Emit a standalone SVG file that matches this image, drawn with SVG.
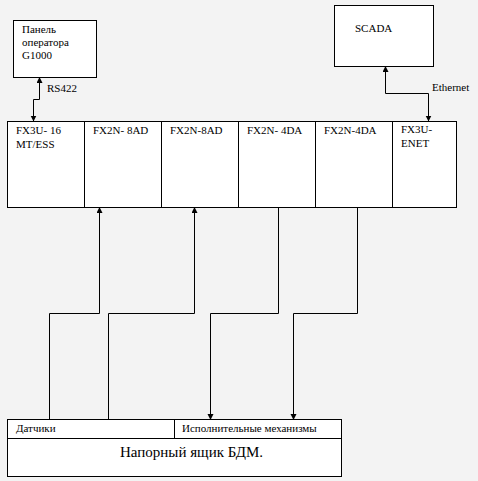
<svg xmlns="http://www.w3.org/2000/svg" width="478" height="481" viewBox="0 0 478 481" font-family="'Liberation Serif', 'Times New Roman', 'DejaVu Serif', serif">
<defs>
<marker id="ah" viewBox="0 0 6 7" refX="5.5" refY="3" markerWidth="6" markerHeight="7" markerUnits="userSpaceOnUse" orient="auto">
<path d="M0,0 L6,3 L0,6 z" fill="#000"/>
</marker>
<style>
.box{fill:#fff;stroke:#000;stroke-width:1}
.ln{fill:none;stroke:#000;stroke-width:1}
.arr{fill:none;stroke:#000;stroke-width:1;marker-end:url(#ah)}
text{font-family:'Liberation Serif','Times New Roman',serif;fill:#000}
.t{font-size:11px}
.s{font-size:11px}
.big{font-size:15px}
</style>
</defs>
<rect width="478" height="481" fill="#f3f3f3"/>
<g id="panel">
<rect class="box" x="13.5" y="20.5" width="83" height="57"/>
<text class="t" x="22" y="33">Панель</text>
<text class="t" x="22" y="46">оператора</text>
<text class="t" x="22" y="59">G1000</text>
</g>
<g id="scada">
<rect class="box" x="334.5" y="5.5" width="99" height="61"/>
<text class="t" x="355" y="32">SCADA</text>
</g>
<g id="plc">
<rect class="box" x="7.5" y="121.5" width="449" height="86"/>
<line class="ln" x1="84.5" y1="121.5" x2="84.5" y2="207.5"/>
<line class="ln" x1="161.5" y1="121.5" x2="161.5" y2="207.5"/>
<line class="ln" x1="238.5" y1="121.5" x2="238.5" y2="207.5"/>
<line class="ln" x1="315.5" y1="121.5" x2="315.5" y2="207.5"/>
<line class="ln" x1="392.5" y1="121.5" x2="392.5" y2="207.5"/>
<g id="m1"><text class="t" x="16" y="134">FX3U- 16</text><text class="t" x="16" y="148">MT/ESS</text></g>
<g id="m2"><text class="t" x="93" y="134">FX2N- 8AD</text></g>
<g id="m3"><text class="t" x="170" y="134">FX2N-8AD</text></g>
<g id="m4"><text class="t" x="247" y="134">FX2N- 4DA</text></g>
<g id="m5"><text class="t" x="324" y="134">FX2N-4DA</text></g>
<g id="m6"><text class="t" x="401" y="133">FX3U-</text><text class="t" x="401" y="147">ENET</text></g>
</g>
<g id="tank">
<rect class="box" x="7.5" y="419.5" width="334" height="57"/>
<line class="ln" x1="7.5" y1="438.5" x2="341.5" y2="438.5"/>
<line class="ln" x1="174.5" y1="419.5" x2="174.5" y2="438.5"/>
<text class="s" x="16" y="432">Датчики</text>
<text class="s" x="182" y="432">Исполнительные механизмы</text>
<text class="big" x="120" y="457">Напорный ящик БДМ.</text>
</g>
<g id="connectors">
<polyline class="arr" points="33.5,99.5 33.5,121"/>
<polyline class="arr" points="33.5,99.5 39.5,99.5 39.5,77.5"/>
<text class="t" x="47" y="92">RS422</text>
<polyline class="arr" points="428.5,93.5 428.5,121"/>
<polyline class="arr" points="428.5,93.5 385.5,93.5 385.5,66.5"/>
<text class="s" x="432" y="91">Ethernet</text>
<polyline class="arr" points="49.5,419.5 49.5,313.5 99.5,313.5 99.5,207.5"/>
<polyline class="arr" points="108.5,419.5 108.5,313.5 194.5,313.5 194.5,207.5"/>
<polyline class="arr" points="278.5,207.5 278.5,313.5 210.5,313.5 210.5,419.5"/>
<polyline class="arr" points="357.5,207.5 357.5,313.5 293.5,313.5 293.5,419.5"/>
</g>
</svg>
